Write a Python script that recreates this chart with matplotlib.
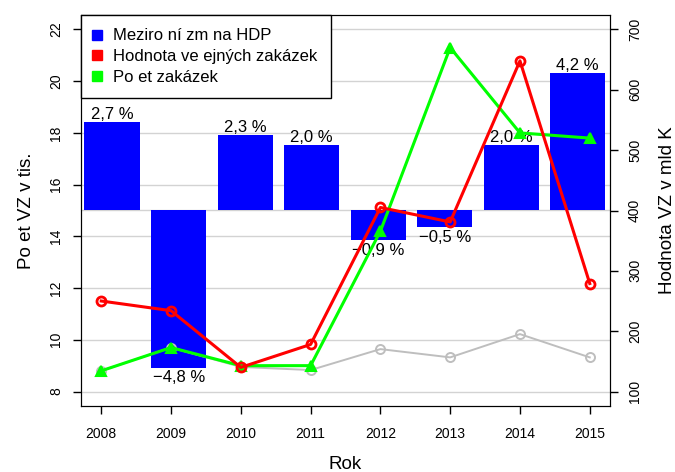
import matplotlib
matplotlib.use("Agg")
import matplotlib.pyplot as plt
from matplotlib.lines import Line2D

plt.rcParams['font.family'] = ['Liberation Sans', 'DejaVu Sans']

# data
roky = [2008, 2009, 2010, 2011, 2012, 2013, 2014, 2015]
hdp_zmena = [2.7, -4.8, 2.3, 2.0, -0.9, -0.5, 2.0, 4.2]
hdp_popisky = ["2,7 %", "\u22124,8 %", "2,3 %", "2,0 %", "\u22120,9 %", "\u22120,5 %", "2,0 %", "4,2 %"]
hodnota_vz = [250, 234, 140, 178, 405, 381, 648, 279]      # mld Kc, right axis
pocet_vz = [8.8, 9.7, 9.0, 9.0, 14.2, 21.3, 18.0, 17.8]     # tis., left axis
pocet_sede = [8.8, 9.7, 8.95, 8.83, 9.64, 9.32, 10.22, 9.32]

# bars are drawn around baseline 15 on the left axis
zaklad = 15
meritko = 1.265

fig = plt.figure(figsize=(6.75, 4.72), dpi=100)
ax = fig.add_axes([81/675, 66/472, 529/675, 391/472])

ax.set_xlim(2007.71, 2015.29)
ax.set_ylim(7.44, 22.56)
ax.set_yticks(range(8, 23, 2))
for y in list(range(8, 23, 2)) + [zaklad]:
    ax.axhline(y, color='#d3d3d3', lw=1, zorder=0)

# bars sit on their own slightly narrower spacing (like R barplot overlaid)
bar_x = [2008.157 + i * 0.953 for i in range(len(roky))]
vysky = [v * meritko for v in hdp_zmena]
ax.bar(bar_x, vysky, bottom=zaklad, width=0.794, color='#0000ff', zorder=2)
for x, h, t in zip(bar_x, vysky, hdp_popisky):
    if h >= 0:
        ax.annotate(t, (x, zaklad + h), xytext=(0, 0), textcoords='offset points',
                    ha='center', va='bottom', fontsize=12, zorder=3)
    else:
        ax.annotate(t, (x, zaklad + h), xytext=(0, -2), textcoords='offset points',
                    ha='center', va='top', fontsize=12, zorder=3)

ax.plot(roky, pocet_sede, color='#bebebe', lw=1.4, marker='o', ms=6.5,
        mfc='none', mew=1.4, zorder=4)
ax.plot(roky, pocet_vz, color='#00ff00', lw=2.2, marker='^', ms=7.5,
        mfc='#00ff00', mew=1.5, zorder=5)

ax2 = ax.twinx()
ax2.set_ylim(76, 724)
ax2.set_yticks(range(100, 701, 100))
ax2.plot(roky, hodnota_vz, color='#ff0000', lw=2.2, marker='o', ms=6.5,
         mfc='none', mew=2, zorder=5)

ax.set_xticks(roky)
ax.tick_params(axis='x', length=6, width=1, pad=9, labelsize=10)
ax.tick_params(axis='y', length=6, width=1, pad=7, labelsize=10)
ax2.tick_params(axis='y', length=6, width=1, pad=7, labelsize=10)
for lab in ax.get_yticklabels():
    lab.set_rotation(90)
    lab.set_va('center')
for lab in ax2.get_yticklabels():
    lab.set_rotation(90)
    lab.set_va('center')

ax.set_xlabel('Rok', fontsize=13.5, labelpad=11)
ax.set_ylabel('Po et VZ v tis.', fontsize=13.5, labelpad=10)
ax2.set_ylabel('Hodnota VZ v mld K', fontsize=13.5, labelpad=12)

handles = [Line2D([], [], ls='none', marker='s', ms=7, color=c) for c in ['#0000ff', '#ff0000', '#00ff00']]
leg = ax2.legend(handles, ['Meziro ní zm na HDP', 'Hodnota ve ejných zakázek', 'Po et zakázek'],
                 loc='upper left', bbox_to_anchor=(0, 1), borderaxespad=0, fontsize=12,
                 fancybox=False, framealpha=1, edgecolor='black', handlelength=0.33,
                 handletextpad=0.79, labelspacing=0.35, borderpad=0.8)
leg.get_frame().set_linewidth(1)
leg.set_zorder(10)

fig.savefig('out.png', dpi=100)
